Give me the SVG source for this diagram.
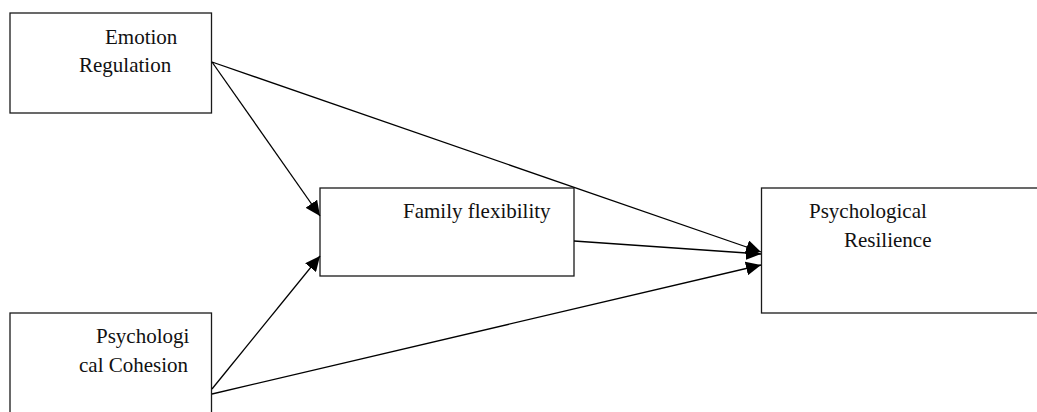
<svg xmlns="http://www.w3.org/2000/svg" width="1037" height="412" viewBox="0 0 1037 412">
  <style>
    .box { fill: #ffffff; stroke: #1a1a1a; stroke-width: 1.3; }
    .lbl { font-family: 'Liberation Serif', 'Times New Roman', Times, serif; font-size: 21px; fill: #111111; }
    .edge { stroke: #000000; stroke-width: 1.3; fill: none; marker-end: url(#arrow); }
  </style>
  <defs>
    <marker id="arrow" markerUnits="userSpaceOnUse" markerWidth="16" markerHeight="14" refX="15" refY="7" orient="auto">
      <path d="M0,0 L15,7 L0,14 z" fill="#000000"/>
    </marker>
  </defs>
  <rect width="1037" height="412" fill="#ffffff"/>
  <g id="node-emotion-regulation">
    <rect class="box" x="10" y="13" width="201.5" height="100"/>
    <text class="lbl" x="105" y="44">Emotion</text>
    <text class="lbl" x="79" y="72">Regulation</text>
  </g>
  <g id="node-psychological-cohesion">
    <rect class="box" x="10" y="313" width="201.5" height="150"/>
    <text class="lbl" x="96" y="343">Psychologi</text>
    <text class="lbl" x="79" y="372">cal Cohesion</text>
  </g>
  <g id="node-family-flexibility">
    <rect class="box" x="320" y="188" width="254" height="88"/>
    <text class="lbl" x="403" y="218">Family flexibility</text>
  </g>
  <g id="node-psychological-resilience">
    <rect class="box" x="761.5" y="188" width="300" height="125"/>
    <text class="lbl" x="809" y="218">Psychological</text>
    <text class="lbl" x="844" y="247">Resilience</text>
  </g>
  <g id="connectors">
    <line class="edge" x1="212" y1="62" x2="320" y2="216"/>
    <line class="edge" x1="212" y1="62" x2="761" y2="252"/>
    <line class="edge" x1="574" y1="241" x2="761" y2="254"/>
    <line class="edge" x1="212" y1="389" x2="320" y2="256"/>
    <line class="edge" x1="212" y1="394" x2="761" y2="265"/>
  </g>
</svg>
